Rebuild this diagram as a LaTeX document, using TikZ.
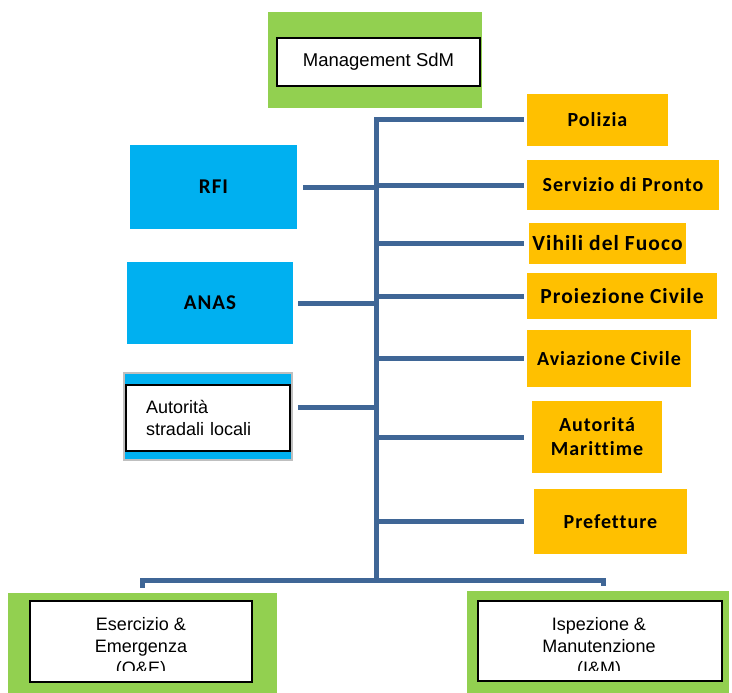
\documentclass[tikz,border=0pt]{standalone}
\usepackage{fontspec}
\setmainfont{Liberation Sans}
\newfontfamily\calibri[LetterSpace=5,Ligatures=NoCommon]{Carlito}
\definecolor{sdmgreen}{RGB}{146,208,80}
\definecolor{sdmblue}{RGB}{0,176,240}
\definecolor{sdmorange}{RGB}{255,192,0}
\definecolor{sdmline}{RGB}{63,102,150}
\tikzset{
  panel/.style={fill=sdmgreen,inner sep=0pt},
  whitebox/.style={draw=black,line width=2pt,fill=white,inner sep=0pt,align=center,font=\fontsize{18}{22}\selectfont},
  bluebox/.style={fill=sdmblue,inner sep=0pt,font=\calibri\bfseries\fontsize{21}{24}\selectfont},
  orangebox/.style={fill=sdmorange,inner sep=0pt,align=center,font=\calibri\bfseries\fontsize{20}{24}\selectfont},
  link/.style={draw=sdmline,line width=5pt},
}
\begin{document}
\begin{tikzpicture}[x=1pt,y=-1pt]
\useasboundingbox (0,0) rectangle (732,693);
\node[panel,minimum width=214pt,minimum height=96pt] (mgmtbg) at (375,60) {};
\node[whitebox,minimum width=203pt,minimum height=48pt,font=\fontsize{18.5}{22}\selectfont] (mgmt) at (378.5,62) {Management SdM};
\node[bluebox,minimum width=167pt,minimum height=84pt] (rfi) at (213.5,187) {RFI};
\node[bluebox,minimum width=166pt,minimum height=82pt] (anas) at (210,303) {ANAS};
\node[bluebox,draw=black!25,line width=1.5pt,minimum width=168pt,minimum height=87pt] (locbg) at (208,416.5) {};
\node[whitebox,minimum width=164pt,minimum height=66pt,text width=124pt,inner xsep=20pt,align=left] (loc) at (208,418) {Autorità\\stradali locali};
\node[orangebox,minimum width=141pt,minimum height=52pt] (pol) at (597.5,120) {Polizia};
\node[orangebox,minimum width=192pt,minimum height=50pt] (ser) at (623,185) {Servizio di Pronto};
\node[orangebox,minimum width=157pt,minimum height=41pt,font=\calibri\bfseries\fontsize{21.5}{24}\selectfont] (vig) at (607.5,243.5) {Vihili del Fuoco};
\node[orangebox,minimum width=190pt,minimum height=46pt,font=\calibri\bfseries\fontsize{21.5}{24}\selectfont] (pro) at (622,296) {Proiezione Civile};
\node[orangebox,minimum width=164pt,minimum height=57pt] (avi) at (609,358.5) {Aviazione Civile};
\node[orangebox,minimum width=130pt,minimum height=72pt] (mar) at (597,437) {Autoritá\\Marittime};
\node[orangebox,minimum width=153pt,minimum height=65pt] (pre) at (610.5,521.5) {Prefetture};
\node[panel,minimum width=269pt,minimum height=100pt] (oebg) at (142.5,643) {};
\node[whitebox,minimum width=222pt,minimum height=81pt] (oe) at (141,641.5) {};
\node[panel,minimum width=262pt,minimum height=102pt] (imbg) at (598,642) {};
\node[whitebox,minimum width=244pt,minimum height=80pt] (im) at (600,641) {};
\begin{scope}
\clip (oe.north west) rectangle (252,670);
\node[align=center,inner sep=0pt,anchor=north,font=\fontsize{18}{22}\selectfont] (oetext) at (141,617) {Esercizio \&\\Emergenza\\(O\&E)};
\end{scope}
\begin{scope}
\clip (im.north west) rectangle (722,670);
\node[align=center,inner sep=0pt,anchor=north,font=\fontsize{18}{22}\selectfont] (imtext) at (599,617) {Ispezione \&\\Manutenzione\\(I\&M)};
\end{scope}
\coordinate (trunk) at (376,580);
\coordinate (rend) at (524,0);
\coordinate (locjoin) at ([yshift=9.5pt]locbg.east);
\draw[link] (trunk) -- (pol.west -| trunk) -- (pol.west -| rend);
\foreach \b in {ser,vig,pro,avi,mar,pre}
  \draw[link] (\b.west -| trunk) -- (\b.west -| rend);
\draw[link] ([xshift=6pt]rfi.east) -- (rfi.east -| trunk);
\draw[link] ([xshift=5pt]anas.east) -- (anas.east -| trunk);
\draw[link] ([xshift=5pt]locjoin) -- (locjoin -| trunk);
\draw[link] ([yshift=5pt]oebg.north) |- (trunk) -| ([xshift=5pt,yshift=5pt]imbg.north);
\end{tikzpicture}
\end{document}
